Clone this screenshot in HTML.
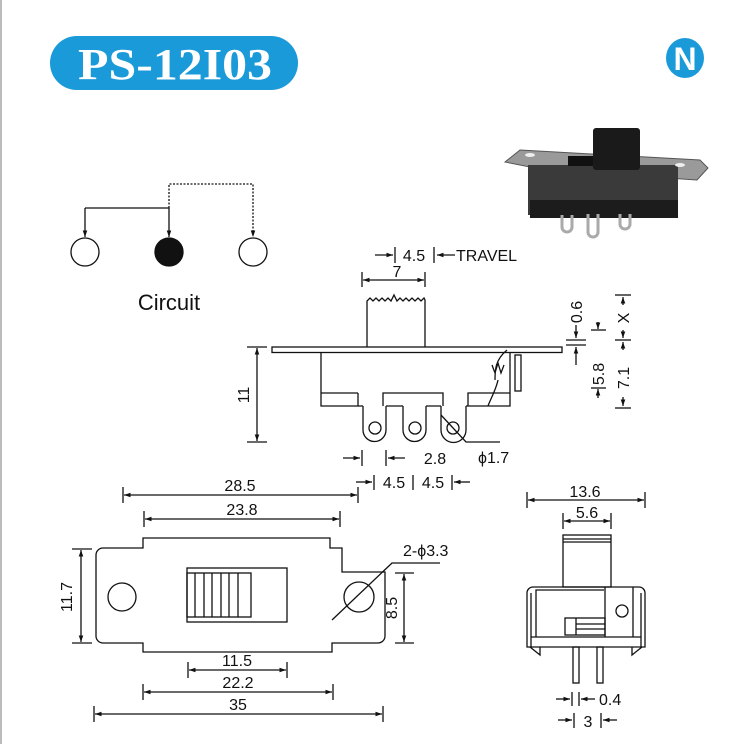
<!DOCTYPE html>
<html><head><meta charset="utf-8"><style>
html,body{margin:0;padding:0;background:#fff;}
svg{display:block;}
text{font-family:"Liberation Sans",sans-serif;fill:#111;}
</style></head><body>
<svg width="735" height="744" viewBox="0 0 735 744" xmlns="http://www.w3.org/2000/svg">
<defs>
<marker id="a" viewBox="0 0 10 10" refX="10" refY="5" markerWidth="7" markerHeight="5" orient="auto-start-reverse"><path d="M0,1.5 L10,5 L0,8.5 z" fill="#111"/></marker>
</defs>
<rect x="0" y="0" width="735" height="744" fill="#fff"/>
<line x1="1" y1="0" x2="1" y2="744" stroke="#bbb" stroke-width="2"/>
<rect x="50" y="36" width="248" height="54" rx="27" fill="#1a9ad9"/>
<text x="78" y="79" textLength="194" lengthAdjust="spacingAndGlyphs" style="font-family:'Liberation Serif',serif;font-weight:bold;font-size:44px;fill:#fff">PS-12I03</text>
<ellipse cx="685" cy="58" rx="19" ry="20" fill="#1a9ad9"/>
<text x="685" y="70" text-anchor="middle" style="font-family:'Liberation Sans',sans-serif;font-weight:bold;font-size:32px;fill:#fff">N</text>
<polygon points="505,162 520,150 700,160 708,168 697,180 545,170" fill="#9a9a9a" stroke="#555"/>
<rect x="528" y="165" width="150" height="50" fill="#3a3a3a"/>
<rect x="530" y="200" width="148" height="18" fill="#1c1c1c"/>
<rect x="568" y="156" width="30" height="10" fill="#111"/>
<rect x="593" y="128" width="47" height="42" rx="3" fill="#1a1a1a"/>
<g fill="none" stroke="#aaa" stroke-width="3">
<path d="M562,215 v12 a5,5 0 0 0 10,0 v-12"/>
<path d="M588,214 v18 a5,5 0 0 0 10,0 v-18"/>
<path d="M620,214 v10 a5,5 0 0 0 10,0 v-10"/>
</g>
<ellipse cx="530" cy="155" rx="5" ry="2" fill="#eee"/>
<ellipse cx="680" cy="165" rx="5" ry="2" fill="#eee"/>
<g stroke="#111" stroke-width="1.3" fill="none">
<path d="M85,208 H169"/>
<line x1="85" y1="208" x2="85" y2="237" marker-end="url(#a)"/>
<line x1="169" y1="208" x2="169" y2="237" marker-end="url(#a)"/>
<path d="M169,208 V184 H253 V237" stroke-dasharray="2,1.5" marker-end="url(#a)"/>
<ellipse cx="85" cy="252" rx="14" ry="14"/>
<ellipse cx="169" cy="252" rx="14" ry="14" fill="#111"/>
<ellipse cx="253" cy="252" rx="14" ry="14"/>
<line x1="375" y1="255" x2="393" y2="255" marker-end="url(#a)"/>
<line x1="395" y1="247" x2="395" y2="263"/>
<line x1="434" y1="247" x2="434" y2="263"/>
<line x1="455" y1="255" x2="437" y2="255" marker-end="url(#a)"/>
<line x1="362" y1="272" x2="362" y2="287"/><line x1="425" y1="272" x2="425" y2="287"/>
<line x1="363" y1="280" x2="424" y2="280" marker-start="url(#a)" marker-end="url(#a)"/>
<path d="M367,347 V301 l3,-3 3,3 3,-3 3,3 3,-3 3,3 3,-3 3,3 3,-6 3,6 3,-3 3,3 3,-3 3,3 3,-3 3,3 3,-3 3,3 3,-3 1,2 V347"/>
<rect x="272" y="347" width="290" height="5.5"/>
<path d="M321,352 V406 H358 V393 M321,393 H358 M383,406 V393 H443 V406 M468,406 V393 H510 M510,352 V406 H468"/>
<path d="M358,406 H363 M386,406 H403 M426,406 H441 M466,406 H468"/>
<path d="M363,406 V430 a11.5,11.5 0 0 0 23,0 V406"/>
<path d="M403,406 V430 a11.5,11.5 0 0 0 23,0 V406"/>
<path d="M441,406 V430 a12.5,12.5 0 0 0 25,0 V406"/>
<circle cx="375" cy="428" r="6"/><circle cx="415" cy="428" r="6"/><circle cx="453" cy="428" r="6"/>
<path d="M441,415 L466,442 H500"/>
<rect x="515" y="355" width="6" height="36"/>
<path d="M507,350 C495,360 495,370 495,380 M492,365 l3,8 3,-10 3,10 3,-8 M498,380 C496,390 490,400 488,406"/>
<line x1="247" y1="347" x2="267" y2="347"/><line x1="247" y1="442" x2="267" y2="442"/>
<line x1="257" y1="348" x2="257" y2="441" marker-start="url(#a)" marker-end="url(#a)"/>
<line x1="343" y1="458" x2="360" y2="458" marker-end="url(#a)"/>
<line x1="362" y1="450" x2="362" y2="466"/><line x1="386" y1="450" x2="386" y2="466"/>
<line x1="405" y1="458" x2="388" y2="458" marker-end="url(#a)"/>
<line x1="356" y1="482" x2="372" y2="482" marker-end="url(#a)"/>
<line x1="374" y1="475" x2="374" y2="490"/><line x1="413" y1="475" x2="413" y2="490"/><line x1="452" y1="475" x2="452" y2="490"/>
<line x1="470" y1="482" x2="454" y2="482" marker-end="url(#a)"/>
<line x1="566" y1="345" x2="586" y2="345"/><line x1="566" y1="340" x2="586" y2="340"/>
<line x1="576" y1="365" x2="576" y2="347" marker-end="url(#a)"/>
<line x1="576" y1="325" x2="576" y2="338" marker-end="url(#a)"/>
<line x1="591" y1="330" x2="606" y2="330"/><line x1="591" y1="388" x2="606" y2="388"/>
<line x1="598" y1="322" x2="598" y2="329" marker-end="url(#a)"/>
<line x1="598" y1="398" x2="598" y2="389" marker-end="url(#a)"/>
<line x1="615" y1="295" x2="631" y2="295"/><line x1="615" y1="340" x2="631" y2="340"/><line x1="615" y1="408" x2="631" y2="408"/>
<line x1="623" y1="305" x2="623" y2="297" marker-end="url(#a)"/>
<line x1="623" y1="330" x2="623" y2="338" marker-end="url(#a)"/>
<line x1="623" y1="350" x2="623" y2="342" marker-end="url(#a)"/>
<line x1="623" y1="397" x2="623" y2="406" marker-end="url(#a)"/>
<line x1="123" y1="487" x2="123" y2="503"/><line x1="358" y1="487" x2="358" y2="503"/>
<line x1="124" y1="495" x2="357" y2="495" marker-start="url(#a)" marker-end="url(#a)"/>
<line x1="144" y1="511" x2="144" y2="527"/><line x1="340" y1="511" x2="340" y2="527"/>
<line x1="145" y1="519" x2="339" y2="519" marker-start="url(#a)" marker-end="url(#a)"/>
<path d="M103,548 H143 V538 H330 V548 H342 V572 H385 V636 a7,7 0 0 1 -7,7 H332 V652 H143 V643 H103 a7,7 0 0 1 -7,-7 V555 a7,7 0 0 1 7,-7 z"/>
<circle cx="122" cy="597" r="14"/><circle cx="359" cy="597" r="15"/>
<path d="M332,620 L392,563 H440"/>
<rect x="187" y="568" width="100" height="54"/>
<rect x="187" y="573" width="64" height="44"/>
<path d="M195,573 V617 M204,573 V617 M212,573 V617 M221,573 V617 M229,573 V617 M238,573 V617"/>
<line x1="72" y1="549" x2="92" y2="549"/><line x1="72" y1="643" x2="92" y2="643"/>
<line x1="81" y1="550" x2="81" y2="642" marker-start="url(#a)" marker-end="url(#a)"/>
<line x1="395" y1="573" x2="414" y2="573"/><line x1="395" y1="643" x2="414" y2="643"/>
<line x1="404" y1="574" x2="404" y2="642" marker-start="url(#a)" marker-end="url(#a)"/>
<line x1="188" y1="662" x2="188" y2="678"/><line x1="287" y1="662" x2="287" y2="678"/>
<line x1="189" y1="670" x2="286" y2="670" marker-start="url(#a)" marker-end="url(#a)"/>
<line x1="143" y1="684" x2="143" y2="700"/><line x1="333" y1="684" x2="333" y2="700"/>
<line x1="144" y1="692" x2="332" y2="692" marker-start="url(#a)" marker-end="url(#a)"/>
<line x1="94" y1="706" x2="94" y2="722"/><line x1="383" y1="706" x2="383" y2="722"/>
<line x1="95" y1="714" x2="382" y2="714" marker-start="url(#a)" marker-end="url(#a)"/>
<line x1="527" y1="492" x2="527" y2="508"/><line x1="645" y1="492" x2="645" y2="508"/>
<line x1="528" y1="500" x2="644" y2="500" marker-start="url(#a)" marker-end="url(#a)"/>
<line x1="563" y1="513" x2="563" y2="529"/><line x1="611" y1="513" x2="611" y2="529"/>
<line x1="564" y1="521" x2="610" y2="521" marker-start="url(#a)" marker-end="url(#a)"/>
<rect x="563" y="535" width="48" height="52"/>
<line x1="563" y1="539" x2="611" y2="539"/><line x1="563" y1="542" x2="611" y2="542"/>
<path d="M527,647 V593 a6,6 0 0 1 6,-6 H639 a6,6 0 0 1 6,6 V647 Z"/>
<path d="M536,637 V590 H604 M531,637 H641 M531,647 V593 M641,647 V593"/>
<path d="M605,587 V637 M633,587 V637"/>
<circle cx="622" cy="611" r="6"/>
<rect x="565" y="618" width="40" height="17"/><line x1="576" y1="618" x2="576" y2="635"/>
<line x1="576" y1="624" x2="605" y2="624"/><line x1="576" y1="629" x2="605" y2="629"/>
<path d="M530,647 L540,655 L540,647 M642,647 L632,655 L632,647"/>
<rect x="573" y="647" width="6" height="36"/><rect x="597" y="647" width="6" height="36"/>
<line x1="556" y1="699" x2="570" y2="699" marker-end="url(#a)"/>
<line x1="572" y1="692" x2="572" y2="706"/><line x1="579" y1="692" x2="579" y2="706"/>
<line x1="595" y1="699" x2="581" y2="699" marker-end="url(#a)"/>
<line x1="558" y1="720" x2="572" y2="720" marker-end="url(#a)"/>
<line x1="574" y1="713" x2="574" y2="728"/><line x1="601" y1="713" x2="601" y2="728"/>
<line x1="617" y1="720" x2="603" y2="720" marker-end="url(#a)"/>
</g>
<g style="font-size:16px">
<text x="169" y="310" text-anchor="middle" style="font-size:22px">Circuit</text>
<text x="414" y="261" text-anchor="middle">4.5</text>
<text x="456" y="261">TRAVEL</text>
<text x="397" y="277" text-anchor="middle">7</text>
<text x="435" y="464" text-anchor="middle">2.8</text>
<text x="478" y="463">ϕ1.7</text>
<text x="394" y="488" text-anchor="middle">4.5</text>
<text x="433" y="488" text-anchor="middle">4.5</text>
<text transform="translate(249,395) rotate(-90)" text-anchor="middle">11</text>
<text transform="translate(582,312) rotate(-90)" text-anchor="middle">0.6</text>
<text transform="translate(604,374) rotate(-90)" text-anchor="middle">5.8</text>
<text transform="translate(629,318) rotate(-90)" text-anchor="middle">X</text>
<text transform="translate(629,378) rotate(-90)" text-anchor="middle">7.1</text>
<text x="240" y="491" text-anchor="middle">28.5</text>
<text x="242" y="515" text-anchor="middle">23.8</text>
<text x="403" y="556">2-ϕ3.3</text>
<text transform="translate(72,597) rotate(-90)" text-anchor="middle">11.7</text>
<text transform="translate(397,608) rotate(-90)" text-anchor="middle">8.5</text>
<text x="237" y="666" text-anchor="middle">11.5</text>
<text x="238" y="688" text-anchor="middle">22.2</text>
<text x="238" y="710" text-anchor="middle">35</text>
<text x="585" y="497" text-anchor="middle">13.6</text>
<text x="587" y="518" text-anchor="middle">5.6</text>
<text x="599" y="705">0.4</text>
<text x="588" y="727" text-anchor="middle">3</text>
</g>
</svg>
</body></html>
